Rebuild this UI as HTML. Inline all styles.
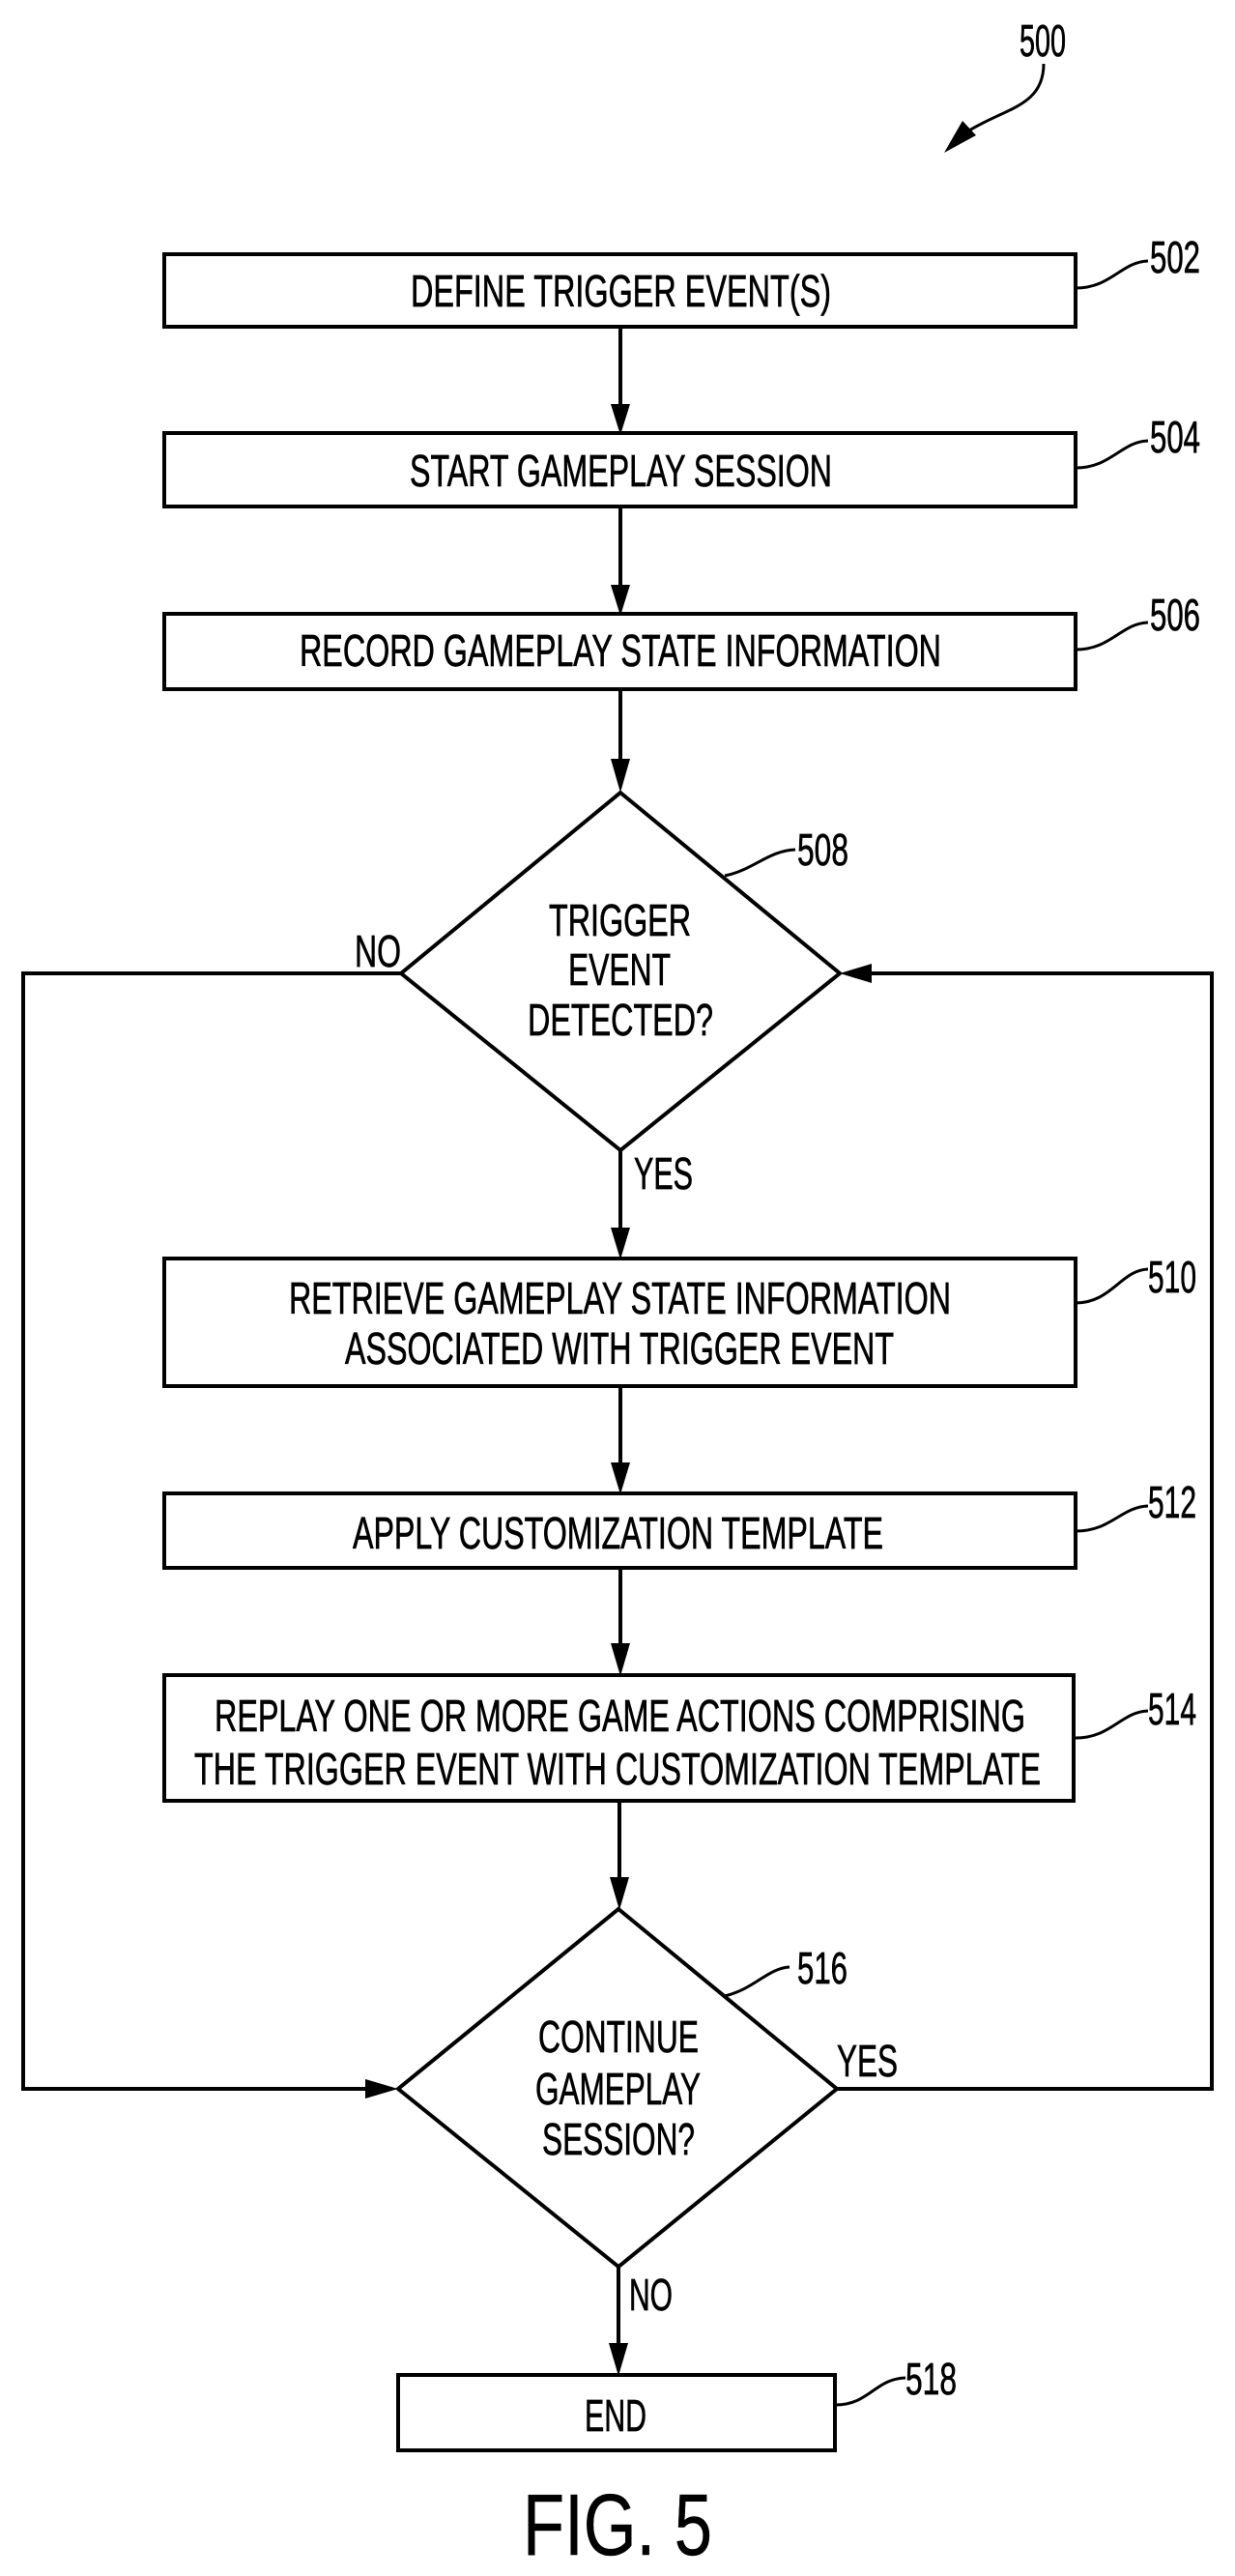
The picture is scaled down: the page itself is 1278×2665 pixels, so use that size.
<!DOCTYPE html>
<html><head><meta charset="utf-8"><style>
html,body{margin:0;padding:0;background:#fff;}
svg{display:block;}
text{font-family:"Liberation Sans",sans-serif;fill:#000;stroke:#000;stroke-width:0.7;}
</style></head><body>
<svg width="1278" height="2665" viewBox="0 0 1278 2665" xmlns="http://www.w3.org/2000/svg">
<g fill="none" stroke="#000" stroke-width="4">
<rect x="170" y="263" width="943" height="75"/>
<rect x="170" y="448" width="943" height="76"/>
<rect x="170" y="635" width="943" height="78"/>
<polygon points="642,820 869,1007 642,1190 415,1007"/>
<rect x="170" y="1302" width="943" height="132"/>
<rect x="170" y="1545" width="943" height="77"/>
<rect x="170" y="1733" width="941" height="130"/>
<polygon points="640,1975 866,2161 640,2345 412,2161"/>
<rect x="412" y="2457" width="452" height="78"/>
<line x1="642" y1="338" x2="642" y2="420"/>
<line x1="642" y1="524" x2="642" y2="608"/>
<line x1="642" y1="713" x2="642" y2="790"/>
<line x1="642" y1="1190" x2="642" y2="1275"/>
<line x1="642" y1="1434" x2="642" y2="1518"/>
<line x1="642" y1="1622" x2="642" y2="1706"/>
<line x1="641" y1="1863" x2="641" y2="1946"/>
<line x1="640" y1="2345" x2="640" y2="2428"/>
<polyline points="415,1007 24,1007 24,2161 380,2161"/>
<polyline points="866,2161 1254,2161 1254,1007 900,1007"/>
</g>
<g fill="#000">
<polygon points="632,418 652,418 642,450"/>
<polygon points="632,605 652,605 642,637"/>
<polygon points="632,785 652,785 642,820"/>
<polygon points="632,1270 652,1270 642,1303"/>
<polygon points="632,1513 652,1513 642,1546"/>
<polygon points="632,1700 652,1700 642,1734"/>
<polygon points="631,1942 651,1942 641,1976"/>
<polygon points="630,2424 650,2424 640,2458"/>
<polygon points="378,2151 378,2171 412,2161"/>
<polygon points="902,997 902,1017 869,1007"/>
</g>
<g fill="none" stroke="#000" stroke-width="3">
<path d="M1113,298 C1150,298 1160,271 1188,270"/>
<path d="M1113,484 C1150,484 1160,457 1188,456"/>
<path d="M1113,672 C1150,672 1160,645 1188,644"/>
<path d="M1113,1348 C1150,1348 1160,1314 1188,1313"/>
<path d="M1113,1584 C1150,1584 1160,1559 1188,1558"/>
<path d="M1113,1798 C1150,1798 1160,1771 1188,1770"/>
<path d="M750,906 C780,900 795,880 823,879"/>
<path d="M750,2065 C780,2058 795,2036 817,2035"/>
<path d="M864,2488 C900,2488 905,2461 937,2460"/>
<path d="M1080,66 C1080,110 1040,112 1003,135"/>
</g>
<polygon points="977,158 996,125 1010,140" fill="#000"/>
<g font-size="46">
<text x="425" y="317" textLength="435" lengthAdjust="spacingAndGlyphs">DEFINE TRIGGER EVENT(S)</text>
<text x="424" y="503" textLength="437" lengthAdjust="spacingAndGlyphs">START GAMEPLAY SESSION</text>
<text x="310" y="689" textLength="664" lengthAdjust="spacingAndGlyphs">RECORD GAMEPLAY STATE INFORMATION</text>
<text x="568" y="968" textLength="147" lengthAdjust="spacingAndGlyphs">TRIGGER</text>
<text x="588" y="1019" textLength="106" lengthAdjust="spacingAndGlyphs">EVENT</text>
<text x="546" y="1071" textLength="192" lengthAdjust="spacingAndGlyphs">DETECTED?</text>
<text x="299" y="1359" textLength="685" lengthAdjust="spacingAndGlyphs">RETRIEVE GAMEPLAY STATE INFORMATION</text>
<text x="357" y="1411" textLength="568" lengthAdjust="spacingAndGlyphs">ASSOCIATED WITH TRIGGER EVENT</text>
<text x="365" y="1602" textLength="549" lengthAdjust="spacingAndGlyphs">APPLY CUSTOMIZATION TEMPLATE</text>
<text x="222" y="1791" textLength="839" lengthAdjust="spacingAndGlyphs">REPLAY ONE OR MORE GAME ACTIONS COMPRISING</text>
<text x="201" y="1846" textLength="876" lengthAdjust="spacingAndGlyphs">THE TRIGGER EVENT WITH CUSTOMIZATION TEMPLATE</text>
<text x="557" y="2123" textLength="166" lengthAdjust="spacingAndGlyphs">CONTINUE</text>
<text x="554" y="2177" textLength="171" lengthAdjust="spacingAndGlyphs">GAMEPLAY</text>
<text x="561" y="2229" textLength="158" lengthAdjust="spacingAndGlyphs">SESSION?</text>
<text x="605" y="2515" textLength="64" lengthAdjust="spacingAndGlyphs">END</text>
<text x="367" y="1000" textLength="48" lengthAdjust="spacingAndGlyphs">NO</text>
<text x="656" y="1230" textLength="61" lengthAdjust="spacingAndGlyphs">YES</text>
<text x="866" y="2148" textLength="63" lengthAdjust="spacingAndGlyphs">YES</text>
<text x="651" y="2390" textLength="45" lengthAdjust="spacingAndGlyphs">NO</text>
<text x="1055" y="58" textLength="48" lengthAdjust="spacingAndGlyphs">500</text>
<text x="1190" y="282" textLength="52" lengthAdjust="spacingAndGlyphs">502</text>
<text x="1190" y="468" textLength="52" lengthAdjust="spacingAndGlyphs">504</text>
<text x="1190" y="652" textLength="52" lengthAdjust="spacingAndGlyphs">506</text>
<text x="825" y="895" textLength="53" lengthAdjust="spacingAndGlyphs">508</text>
<text x="1188" y="1337" textLength="50" lengthAdjust="spacingAndGlyphs">510</text>
<text x="1188" y="1570" textLength="50" lengthAdjust="spacingAndGlyphs">512</text>
<text x="1188" y="1784" textLength="50" lengthAdjust="spacingAndGlyphs">514</text>
<text x="825" y="2052" textLength="52" lengthAdjust="spacingAndGlyphs">516</text>
<text x="937" y="2477" textLength="53" lengthAdjust="spacingAndGlyphs">518</text>
</g>
<text x="541" y="2643" font-size="90" textLength="196" lengthAdjust="spacingAndGlyphs" style="stroke-width:0.5">FIG. 5</text>
</svg>
</body></html>
